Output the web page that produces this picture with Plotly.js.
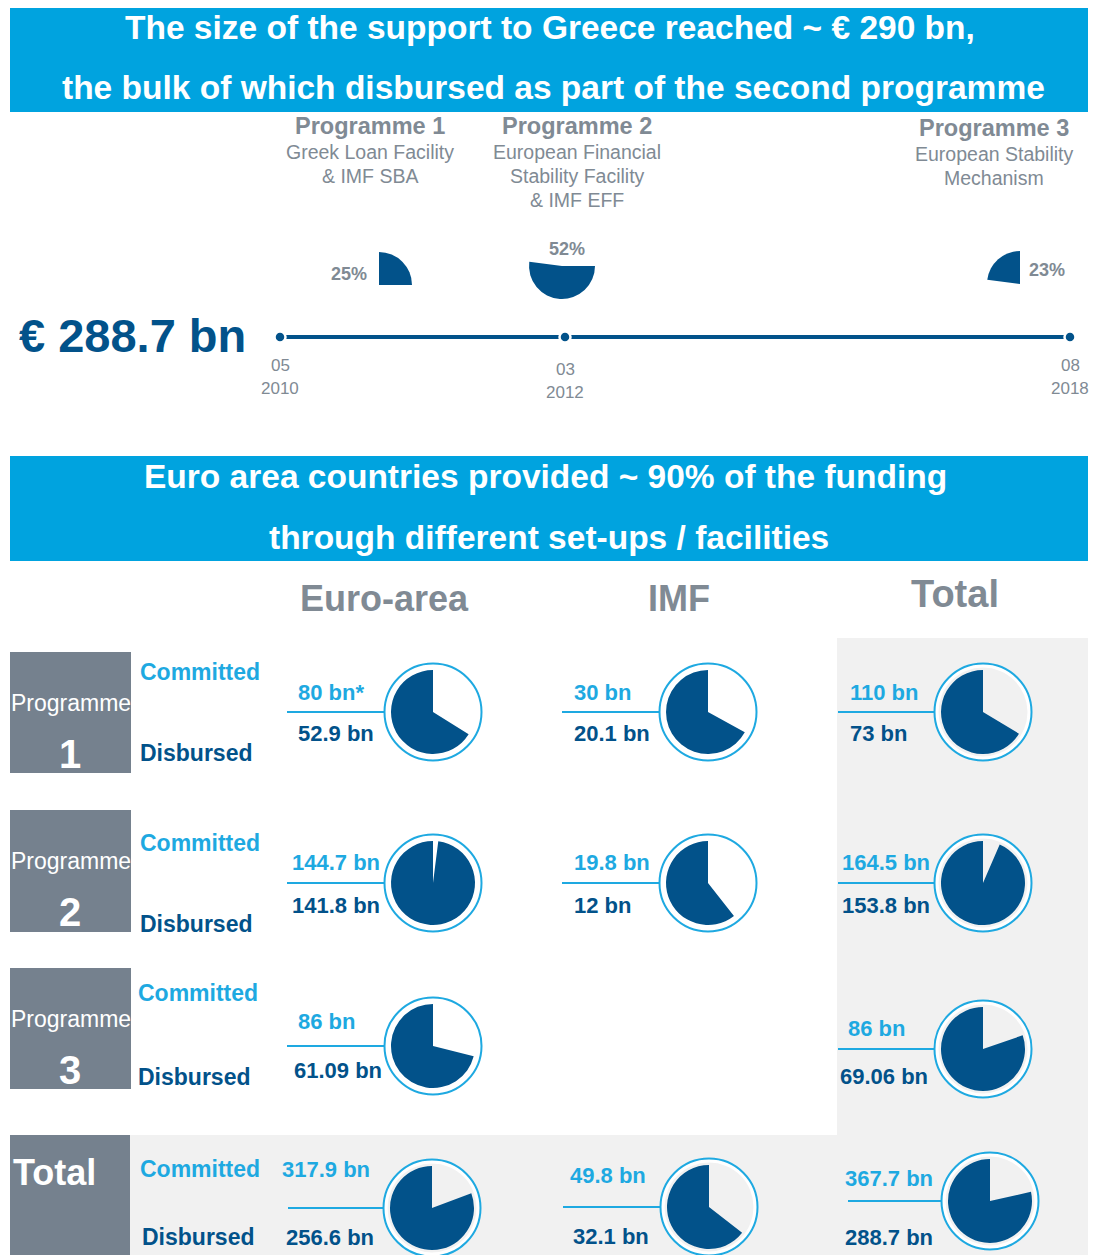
<!DOCTYPE html>
<html>
<head>
<meta charset="utf-8">
<script src="https://cdn.plot.ly/plotly-3.0.1.min.js"></script>
<style>html,body{margin:0;padding:0;background:#fff;}#chart{width:1097px;height:1255px;}</style>
</head>
<body>
<div id="chart"></div>
<script>
// ---------------- DATA ----------------
const headerTitle1 = ['The size of the support to Greece reached ~ € 290 bn,', 'the bulk of which disbursed as part of the second programme'];
const headerTitle2 = ['Euro area countries provided ~ 90% of the funding', 'through different set-ups / facilities'];
const programmeNames = ['Programme 1', 'Programme 2', 'Programme 3'];
const programmeFacilities = [['Greek Loan Facility', '& IMF SBA'], ['European Financial', 'Stability Facility', '& IMF EFF'], ['European Stability', 'Mechanism']];
const programmeShares = [25, 52, 23];
const timelineMonths = ['05', '03', '08'];
const timelineYears = ['2010', '2012', '2018'];
const totalSupport = 288.7;
const sourceNames = ['Euro-area', 'IMF', 'Total'];
const rowNames = ['Programme', 'Programme', 'Programme', 'Total'];
const rowNumbers = ['1', '2', '3', ''];
const committedEuroArea = [80, 144.7, 86, 317.9];
const disbursedEuroArea = [52.9, 141.8, 61.09, 256.6];
const euroAreaNotes = ['*', '', '', ''];
const committedIMF = [30, 19.8, null, 49.8];
const disbursedIMF = [20.1, 12, null, 32.1];
const committedTotal = [110, 164.5, 86, 367.7];
const disbursedTotal = [73, 153.8, 69.06, 288.7];

// ---------------- STYLE / LAYOUT ----------------
const W = 1097, H = 1255;
const FONT = 'Liberation Sans, Arial, Helvetica, sans-serif';
const headerBlue = '#00a3df';
const darkBlue = '#02528a';
const lightBlue = '#1ea9e1';
const greyText = '#808a94';
const boxGrey = '#75818e';
const bgGrey = '#f1f1f1';

const timelineX = [280, 565, 1070];
const timelineY = 337;
const sharePieC = [[379, 285], [562, 266], [1020, 284]];
const sharePieR = 33;
const shareLabelPos = [[349, 274], [567, 249], [1047, 270]];
const progHeadX = [370, 577, 994];
const progHeadY = [126, 126, 128];
const monthLabelY = [365, 369, 365];

const colHeadX = [384, 679, 955];
const colHeadY = [598, 598, 594];
const colHeadSize = [36, 36, 38];

const boxY = [[652, 773], [810, 932], [968, 1089], [1135, 1255]];
const committedPos = [[138, 672], [138, 843], [136, 993], [138, 1169]];
const disbursedPos = [[138, 753], [138, 924], [136, 1077], [140, 1237]];

const cellCX = [[433, 708, 983], [433, 708, 983], [433, null, 983], [432, 709, 990]];
const cellCY = [[712, 712, 712], [883, 883, 883], [1046, null, 1049], [1208, 1207, 1201]];
const comX = [[296, 572, 848], [290, 572, 840], [296, null, 846], [280, 568, 843]];
const comY = [[692, 692, 692], [862, 862, 862], [1021, null, 1028], [1169, 1175, 1178]];
const disX = [[296, 572, 848], [290, 572, 840], [292, null, 838], [284, 571, 843]];
const disY = [[733, 733, 733], [905, 905, 905], [1070, null, 1076], [1237, 1236, 1237]];
const lineX0 = [[287, 562, 838], [287, 562, 838], [287, null, 838], [288, 563, 848]];
const outerR = 48.5, innerR = 44.5, pieR = 42;

function dom(cx, cy, r) {
  return { x: [(cx - r) / W, (cx + r) / W], y: [1 - (cy + r) / H, 1 - (cy - r) / H] };
}
const annotations = [];
function ann(text, x, y, size, color, opts) {
  opts = opts || {};
  annotations.push({
    text: opts.bold ? '<b>' + text + '</b>' : text,
    x: x, y: y, xref: 'x', yref: 'y', showarrow: false,
    xanchor: opts.anchor || 'center', yanchor: 'middle',
    font: { family: FONT, size: size, color: color }
  });
}
const shapes = [];
function rect(x0, y0, x1, y1, fill) {
  shapes.push({ type: 'rect', xref: 'x', yref: 'y', x0: x0, y0: y0, x1: x1, y1: y1, fillcolor: fill, line: { width: 0 }, layer: 'below' });
}
function circle(cx, cy, r, fill, lineColor, lw) {
  shapes.push({ type: 'circle', xref: 'x', yref: 'y', x0: cx - r, y0: cy - r, x1: cx + r, y1: cy + r,
    fillcolor: fill, line: { color: lineColor, width: lw }, layer: 'below' });
}
function hline(x0, x1, y, color, w) {
  shapes.push({ type: 'line', xref: 'x', yref: 'y', x0: x0, x1: x1, y0: y, y1: y, line: { color: color, width: w }, layer: 'below' });
}

const traces = [];

// Header bars
rect(10, 8, 1088, 112, headerBlue);
ann(headerTitle1[0], 550, 27, 33.5, '#ffffff', { bold: true });
ann(headerTitle1[1], 553, 87, 33.5, '#ffffff', { bold: true });
rect(10, 456, 1088, 561, headerBlue);
ann(headerTitle2[0], 545, 476, 33.5, '#ffffff', { bold: true });
ann(headerTitle2[1], 549, 537, 33.5, '#ffffff', { bold: true });

// Programme headings
programmeNames.forEach((name, i) => {
  ann(name, progHeadX[i], progHeadY[i], 23.5, greyText, { bold: true });
  programmeFacilities[i].forEach((line, j) => {
    ann(line, progHeadX[i], progHeadY[i] + 26 + j * 24, 19.5, greyText);
  });
});

// Exploded share pie along the timeline
let startAngle = 0;
programmeShares.forEach((share, i) => {
  traces.push({
    type: 'pie', values: [share, 100 - share], sort: false, direction: 'clockwise',
    rotation: startAngle, textinfo: 'none', hoverinfo: 'skip', showlegend: false,
    marker: { colors: [darkBlue, 'rgba(0,0,0,0)'], line: { width: 0 } },
    domain: dom(sharePieC[i][0], sharePieC[i][1], sharePieR)
  });
  startAngle += share * 3.6;
  ann(share + '%', shareLabelPos[i][0], shareLabelPos[i][1], 18, greyText, { bold: true });
});

// Timeline
traces.push({
  type: 'scatter', mode: 'lines', x: [timelineX[0], timelineX[timelineX.length - 1]], y: [timelineY, timelineY],
  line: { color: darkBlue, width: 4 }, hoverinfo: 'skip', showlegend: false
});
traces.push({
  type: 'scatter', mode: 'markers', x: timelineX, y: timelineX.map(() => timelineY),
  marker: { color: darkBlue, size: 11, line: { color: '#ffffff', width: 2.5 } },
  hoverinfo: 'skip', showlegend: false
});
timelineMonths.forEach((m, i) => {
  ann(m, timelineX[i], monthLabelY[i], 17, greyText);
  ann(timelineYears[i], timelineX[i], monthLabelY[i] + 23, 17, greyText);
});
ann('€ ' + totalSupport + ' bn', 17, 335, 47, darkBlue, { bold: true, anchor: 'left' });

// Column headers
sourceNames.forEach((s, i) => ann(s, colHeadX[i], colHeadY[i], colHeadSize[i], greyText, { bold: true }));

// Grey backgrounds
rect(837, 638, 1088, 1138, bgGrey);
rect(130, 1135, 1088, 1255, bgGrey);

// Row boxes
rowNames.forEach((name, r) => {
  rect(10, boxY[r][0], r === 3 ? 130 : 131, boxY[r][1], boxGrey);
  if (r < 3) {
    ann(name, 71, boxY[r][0] + 51, 23, '#ffffff');
    ann(rowNumbers[r], 70, boxY[r][0] + 102, 40, '#ffffff', { bold: true });
  } else {
    ann(name, 11, boxY[r][0] + 37, 36, '#ffffff', { bold: true, anchor: 'left' });
  }
  ann('Committed', committedPos[r][0], committedPos[r][1], 23, lightBlue, { bold: true, anchor: 'left' });
  ann('Disbursed', disbursedPos[r][0], disbursedPos[r][1], 23, darkBlue, { bold: true, anchor: 'left' });
});

// Cells: disbursed share filled from 12 o'clock going counter-clockwise
const columns = [[committedEuroArea, disbursedEuroArea, euroAreaNotes], [committedIMF, disbursedIMF, null], [committedTotal, disbursedTotal, null]];
for (let r = 0; r < 4; r++) {
  columns.forEach((col, c) => {
    const com = col[0][r], dis = col[1][r];
    if (com === null || com === undefined) return;
    const cx = cellCX[r][c], cy = cellCY[r][c];
    const bg = (c === 2 || r === 3) ? bgGrey : '#ffffff';
    hline(lineX0[r][c], cx - outerR, cy, lightBlue, 2);
    circle(cx, cy, outerR, '#ffffff', lightBlue, 2);
    circle(cx, cy, innerR, bg, bg, 0);
    traces.push({
      type: 'pie', values: [com - dis, dis], sort: false, direction: 'clockwise', rotation: 0,
      textinfo: 'none', hoverinfo: 'skip', showlegend: false,
      marker: { colors: ['rgba(0,0,0,0)', darkBlue], line: { width: 0 } },
      domain: dom(cx, cy, pieR)
    });
    const note = col[2] ? col[2][r] : '';
    ann(com + ' bn' + note, comX[r][c], comY[r][c], 22, lightBlue, { bold: true, anchor: 'left' });
    ann(dis + ' bn', disX[r][c], disY[r][c], 22, darkBlue, { bold: true, anchor: 'left' });
  });
}

const layout = {
  width: W, height: H, margin: { l: 0, r: 0, t: 0, b: 0, pad: 0 },
  paper_bgcolor: '#ffffff', plot_bgcolor: 'rgba(0,0,0,0)', showlegend: false,
  xaxis: { range: [0, W], visible: false, fixedrange: true },
  yaxis: { range: [H, 0], visible: false, fixedrange: true },
  shapes: shapes, annotations: annotations,
  font: { family: FONT }
};
Plotly.newPlot('chart', traces, layout, { staticPlot: true, displayModeBar: false });
</script>
</body>
</html>
